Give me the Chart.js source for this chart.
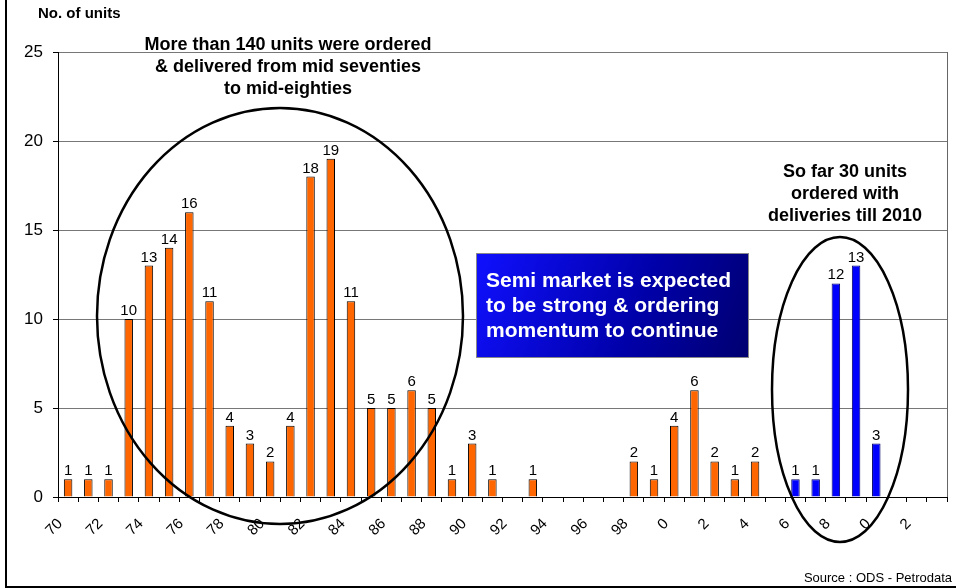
<!DOCTYPE html>
<html>
<head>
<meta charset="utf-8">
<script src="https://cdn.jsdelivr.net/npm/chart.js@4/dist/chart.umd.min.js"></script>
<style>
  html, body { margin: 0; padding: 0; background: #fff; }
  canvas { display: block; }
</style>
</head>
<body>
<canvas id="chartUnits" width="956" height="588"></canvas>
<script>
// 연도 (1970 ~ 2013)
const years = ['70','71','72','73','74','75','76','77','78','79',
               '80','81','82','83','84','85','86','87','88','89',
               '90','91','92','93','94','95','96','97','98','99',
               '0','1','2','3','4','5','6','7','8','9',
               '0','1','2','3'];

// delivered units (orange)
const delivered = [1,1,1,10,13,14,16,11,4,3,
                   2,4,18,19,11,5,5,6,5,1,
                   3,1,null,1,null,null,null,null,2,1,
                   4,6,2,1,2,null,null,null,null,null,
                   null,null,null,null];

// ordered units with deliveries till 2010 (blue)
const ordered = [null,null,null,null,null,null,null,null,null,null,
                 null,null,null,null,null,null,null,null,null,null,
                 null,null,null,null,null,null,null,null,null,null,
                 null,null,null,null,null,null,1,1,12,13,
                 3,null,null,null];

const yTicks = [0, 5, 10, 15, 20, 25];

const FONT = "'Liberation Sans', Arial, sans-serif";

/* ------------------------------
 * annotations, labels, frame
 * ------------------------------ */
const overlay = {
  id: 'overlay',
  afterDraw(chart) {
    const { ctx, chartArea: a } = chart;
    ctx.save();

    // plot border (right side)
    ctx.strokeStyle = '#666';
    ctx.lineWidth = 1;
    ctx.beginPath();
    ctx.moveTo(a.right + 0.5, a.top);
    ctx.lineTo(a.right + 0.5, a.bottom);
    ctx.stroke();

    // value labels
    ctx.fillStyle = '#000';
    ctx.font = `15px ${FONT}`;
    ctx.textAlign = 'center';
    ctx.textBaseline = 'alphabetic';
    chart.data.datasets.forEach((ds, di) => {
      chart.getDatasetMeta(di).data.forEach((bar, i) => {
        const v = ds.data[i];
        if (v == null) return;
        ctx.fillText(String(v), bar.x, bar.y - 4);
      });
    });

    // outer frame (left + bottom)
    ctx.strokeStyle = '#000';
    ctx.lineWidth = 2;
    ctx.beginPath();
    ctx.moveTo(6, 0);
    ctx.lineTo(6, 587);
    ctx.lineTo(956, 587);
    ctx.stroke();

    // y axis title
    ctx.font = `bold 15px ${FONT}`;
    ctx.textAlign = 'left';
    ctx.fillText('No. of units', 38, 18);

    // left annotation
    ctx.font = `bold 18px ${FONT}`;
    ctx.textAlign = 'center';
    ['More than 140 units were ordered', '& delivered from mid seventies', 'to mid-eighties']
      .forEach((t, i) => ctx.fillText(t, 288, 50 + i * 22));

    // right annotation
    ['So far 30 units', 'ordered with', 'deliveries till 2010']
      .forEach((t, i) => ctx.fillText(t, 845, 177 + i * 22));

    // blue box
    const bx = 476, by = 253, bw = 272, bh = 104;
    const g = ctx.createLinearGradient(bx, by, bx + bw, by + bh);
    g.addColorStop(0, '#1010ff');
    g.addColorStop(0.6, '#0000a8');
    g.addColorStop(1, '#000070');
    ctx.fillStyle = g;
    ctx.fillRect(bx, by, bw, bh);
    ctx.strokeStyle = '#888';
    ctx.lineWidth = 1;
    ctx.strokeRect(bx + 0.5, by + 0.5, bw, bh);
    ctx.fillStyle = '#fff';
    ctx.font = `bold 21px ${FONT}`;
    ctx.textAlign = 'left';
    ['Semi market is expected', 'to be strong & ordering', 'momentum to continue']
      .forEach((t, i) => ctx.fillText(t, 486, 287 + i * 25));

    // ellipses
    ctx.strokeStyle = '#000';
    ctx.lineWidth = 2.5;
    ctx.beginPath();
    ctx.ellipse(280, 316, 183, 208, 0, 0, Math.PI * 2);
    ctx.stroke();
    ctx.beginPath();
    ctx.ellipse(840, 389.5, 68, 152.5, 0, 0, Math.PI * 2);
    ctx.stroke();

    // source
    ctx.fillStyle = '#000';
    ctx.font = `13px ${FONT}`;
    ctx.textAlign = 'right';
    ctx.fillText('Source : ODS - Petrodata', 952, 582);

    ctx.restore();
  }
};

new Chart(document.getElementById('chartUnits'), {
  type: 'bar',
  data: {
    labels: years,
    datasets: [{
      label: 'Delivered',
      data: delivered,
      backgroundColor: '#ff6600',
      borderColor: '#000',
      borderWidth: 1,
      barPercentage: 0.42,
      categoryPercentage: 1
    }, {
      label: 'Ordered',
      data: ordered,
      backgroundColor: '#0000ff',
      borderColor: '#000066',
      borderWidth: 1,
      barPercentage: 0.42,
      categoryPercentage: 1
    }]
  },
  options: {
    responsive: false,
    animation: false,
    layout: { padding: { top: 52, right: 9, left: 0, bottom: 0 } },
    scales: {
      x: {
        stacked: true,
        afterFit: s => { s.height = 91; s.paddingLeft = 0; s.paddingRight = 0; },
        grid: { drawOnChartArea: false, tickLength: 5, color: '#000', tickColor: '#000' },
        border: { color: '#000', width: 1 },
        ticks: {
          autoSkip: false,
          maxRotation: 45,
          minRotation: 45,
          padding: 13,
          labelOffset: -8,
          color: '#000',
          font: { family: FONT, size: 15 },
          callback: (v, i) => (i % 2 === 0 ? years[i] : '')
        }
      },
      y: {
        stacked: true,
        min: 0,
        max: 25,
        afterFit: s => { s.width = 58; s.paddingTop = 0; s.paddingBottom = 0; },
        afterBuildTicks: s => { s.ticks = yTicks.map(v => ({ value: v })); },
        grid: { color: '#777', tickLength: 5, tickColor: '#000' },
        border: { color: '#000', width: 1 },
        ticks: {
          padding: 10,
          color: '#000',
          font: { family: FONT, size: 17 }
        }
      }
    },
    plugins: {
      legend: { display: false },
      tooltip: { enabled: false }
    }
  },
  plugins: [overlay]
});
</script>
</body>
</html>
